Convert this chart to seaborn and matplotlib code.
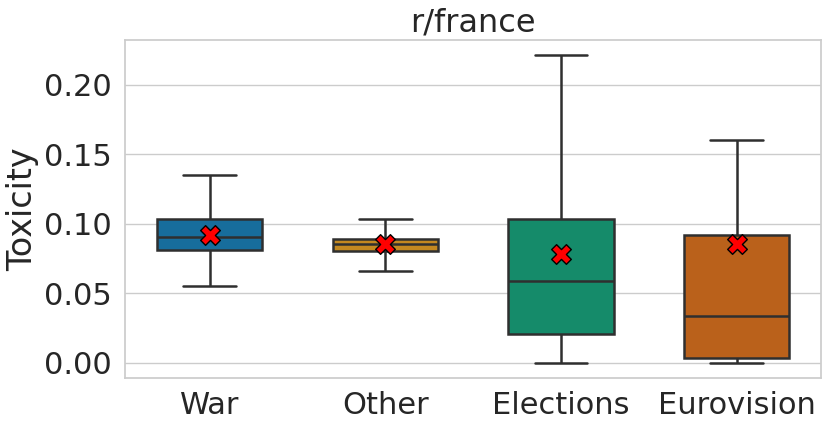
import numpy as np
import pandas as pd
import matplotlib
matplotlib.use("Agg")
import matplotlib.pyplot as plt
import seaborn as sns

categories = ["War", "Other", "Elections", "Eurovision"]
# five-number summaries: [min, q1, median, q3, max]
war = [0.055, 0.081, 0.090, 0.103, 0.135]
other = [0.066, 0.080, 0.085, 0.089, 0.103]
elections = [0.000, 0.0205, 0.0585, 0.103, 0.221]
eurovision = [0.000, 0.0035, 0.0335, 0.0915, 0.160]
means = [0.092, 0.085, 0.078, 0.085]

sns.set_theme(style="whitegrid")
plt.rcParams['font.family'] = ['DejaVu Sans']

rows = []
for cat, vals in zip(categories, [war, other, elections, eurovision]):
    for v in vals:
        rows.append({"Category": cat, "Toxicity": v})
df = pd.DataFrame(rows)
mdf = pd.DataFrame({"Category": categories, "Toxicity": means})

fig = plt.figure(figsize=(8.3, 4.3), dpi=100)
ax = fig.add_axes([0.151, 0.121, 0.838, 0.786])
sns.boxplot(data=df, x="Category", y="Toxicity", hue="Category",
            palette="colorblind", width=0.6, whis=(0, 100), linewidth=1.8,
            linecolor="#2f2f2f", legend=False, ax=ax, order=categories)
sns.scatterplot(data=mdf, x="Category", y="Toxicity", marker="X", s=200,
                color="red", edgecolor="black", linewidth=1, zorder=5, ax=ax)
ax.set_xlabel("")
ax.set_ylabel("Toxicity", fontsize=24)
ax.set_title("r/france", fontsize=23)
ax.tick_params(axis="both", labelsize=22)
ax.set_yticks([0.0, 0.05, 0.10, 0.15, 0.20])
ax.set_yticklabels(["0.00", "0.05", "0.10", "0.15", "0.20"])
fig.savefig("out.png", dpi=100)
